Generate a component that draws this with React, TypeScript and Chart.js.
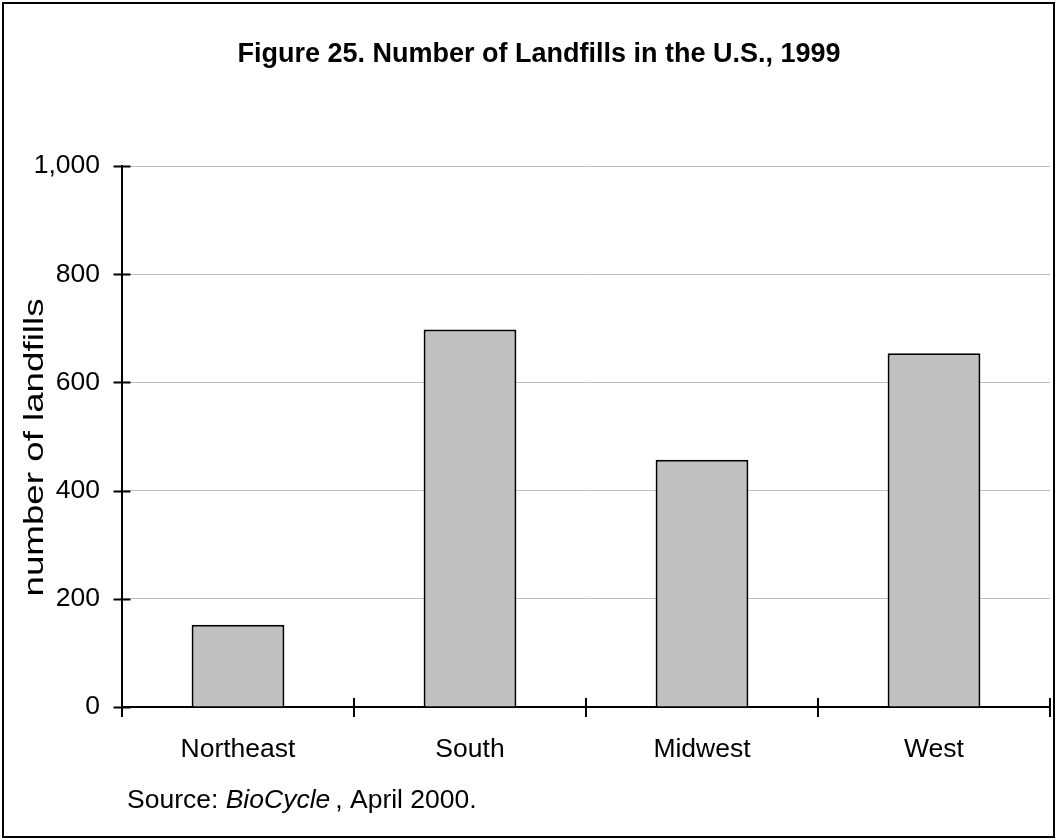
import React, { useEffect, useRef } from "react";
import { Chart, registerables } from "chart.js";

Chart.register(...registerables);

const categories = ["Northeast", "South", "Midwest", "West"];
const landfills = [152, 698, 457, 654];
const yTickValues = [0, 200, 400, 600, 800, 1000];

const FONT = "'Liberation Sans', Arial, Helvetica, sans-serif";
const TITLE = "Figure 25. Number of Landfills in the U.S., 1999";
const Y_TITLE = "number of landfills";

const frameAndText = {
  id: "frameAndText",
  afterDraw(chart: any) {
    const ctx = chart.ctx;
    const { left, bottom, top } = chart.chartArea;
    const xs = chart.scales.x;
    const ys = chart.scales.y;
    ctx.save();
    // outer frame
    ctx.strokeStyle = "#000";
    ctx.lineWidth = 2;
    ctx.strokeRect(3, 3, 1051, 834);

    // y tick marks (crossing the axis)
    ctx.beginPath();
    ys.ticks.forEach((t: any) => {
      const py = Math.round(ys.getPixelForValue(t.value)) + 0.5;
      ctx.moveTo(left - 8.5, py);
      ctx.lineTo(left + 8.5, py);
    });
    // x tick marks at category boundaries
    for (let i = 0; i <= categories.length; i++) {
      const px = Math.round(xs.getPixelForValue(i - 0.5));
      ctx.moveTo(px, bottom - 9);
      ctx.lineTo(px, bottom + 10);
    }
    ctx.stroke();

    // title
    ctx.fillStyle = "#000";
    ctx.textBaseline = "middle";
    ctx.textAlign = "center";
    ctx.font = `bold 27px ${FONT}`;
    ctx.fillText(TITLE, 539, 55);

    // y-axis title (rotated, slightly elongated as in the reference)
    ctx.save();
    ctx.font = `27px ${FONT}`;
    ctx.textAlign = "center";
    ctx.textBaseline = "middle";
    ctx.translate(36, (top + bottom) / 2 + 11);
    ctx.rotate(-Math.PI / 2);
    ctx.scale(1.36, 1);
    ctx.fillText(Y_TITLE, 0, 0);
    ctx.restore();

    // source
    ctx.textAlign = "left";
    ctx.textBaseline = "middle";
    let x = 127;
    const y = 801;
    ctx.font = `26.5px ${FONT}`;
    ctx.fillText("Source: ", x, y);
    x += ctx.measureText("Source: ").width;
    ctx.font = `italic 26.5px ${FONT}`;
    ctx.fillText("BioCycle", x, y);
    x += ctx.measureText("BioCycle").width + 5;
    ctx.font = `26.5px ${FONT}`;
    ctx.fillText(", April 2000.", x, y);
    ctx.restore();
  },
};

export default function App() {
  const canvasRef = useRef<HTMLCanvasElement | null>(null);

  useEffect(() => {
    document.body.style.margin = "0";
    const canvas = canvasRef.current;
    if (!canvas) return;
    const chart = new Chart(canvas, {
      type: "bar",
      data: {
        labels: categories,
        datasets: [
          {
            data: landfills,
            backgroundColor: "#c0c0c0",
            borderColor: "#000",
            borderWidth: 2,
            categoryPercentage: 1,
            barPercentage: 0.4,
          },
        ],
      },
      options: {
        responsive: false,
        animation: false,
        devicePixelRatio: 1,
        layout: { padding: { top: 166, right: 7, bottom: 0, left: 0 } },
        plugins: {
          legend: { display: false },
          title: { display: false },
          tooltip: { enabled: false },
        },
        scales: {
          x: {
            grid: { display: false, drawTicks: false },
            border: { display: true, color: "#000", width: 2 },
            ticks: {
              color: "#000",
              font: { family: FONT, size: 26.5 },
              padding: 27,
              maxRotation: 0,
              autoSkip: false,
            },
            afterFit(scale: any) {
              scale.height = 133;
            },
          },
          y: {
            min: 0,
            max: 1000,
            afterBuildTicks(scale: any) {
              scale.ticks = yTickValues.map((v) => ({ value: v }));
            },
            grid: {
              drawTicks: false,
              lineWidth: 1,
              color: (c: any) => (c.tick && c.tick.value === 0 ? "rgba(0,0,0,0)" : "#c0c0c0"),
            },
            border: { display: true, color: "#000", width: 2 },
            ticks: {
              color: "#000",
              font: { family: FONT, size: 26.5 },
              padding: 22,
              callback: (v: any) => Number(v).toLocaleString("en-US"),
            },
            title: { display: false },
            afterFit(scale: any) {
              scale.width = 122;
            },
          },
        },
      },
      plugins: [frameAndText],
    });
    return () => chart.destroy();
  }, []);

  return (
    <div style={{ width: 1057, height: 840, background: "#fff" }}>
      <canvas ref={canvasRef} width={1057} height={840} style={{ display: "block" }} />
    </div>
  );
}
